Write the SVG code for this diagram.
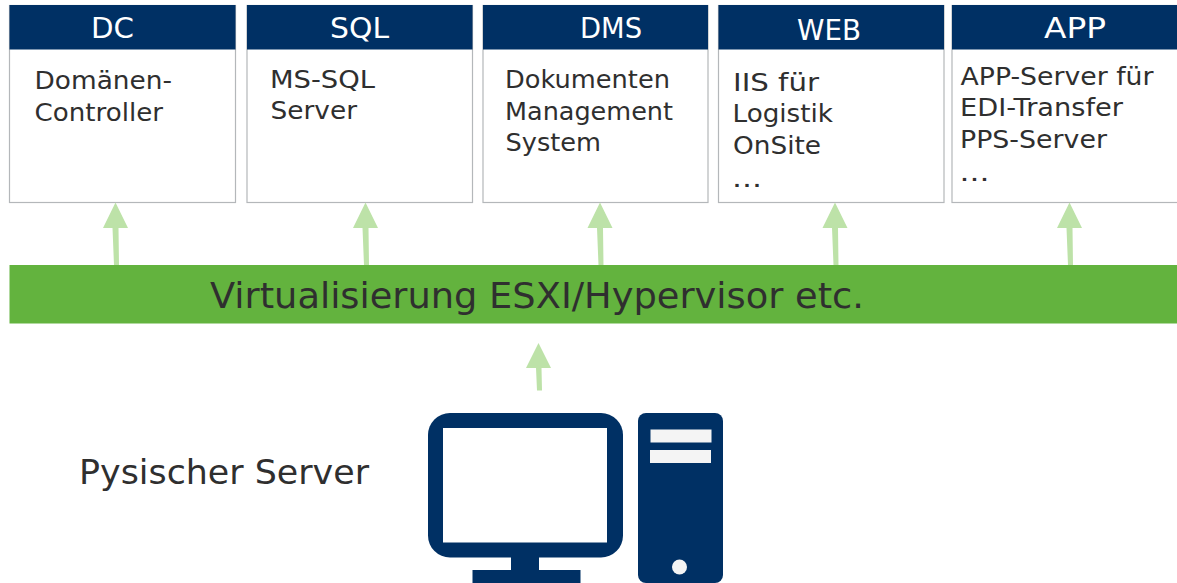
<svg xmlns="http://www.w3.org/2000/svg" width="1177" height="583" viewBox="0 0 1177 583">
<style>
text{font-family:"DejaVu Sans","Liberation Sans",sans-serif;fill:#2f2f2f}
.box{fill:#fff;stroke:#b4b7ba;stroke-width:1.2}
.head{fill:#003064}
.h{fill:#fff;font-size:28px}
.b{font-size:25px}
.arrow{fill:#bde2a8}
.navy{fill:#003064}
.pale{fill:#f4f4f4}
</style>
<rect width="1177" height="583" fill="#fff"/>
<g id="node-dc"><rect class="box" x="9.5" y="5.5" width="226" height="197"/><rect class="head" x="9.5" y="5" width="226" height="44.5"/><text class="h" x="91" y="38" textLength="43" lengthAdjust="spacingAndGlyphs">DC</text><text class="b" x="34.500" y="89" textLength="137.500" lengthAdjust="spacingAndGlyphs">Domänen-</text><text class="b" x="34.500" y="121" textLength="128.500" lengthAdjust="spacingAndGlyphs">Controller</text></g>
<g id="node-sql"><rect class="box" x="247" y="5.5" width="225.500" height="197"/><rect class="head" x="247" y="5" width="225.500" height="44.500"/><text class="h" x="330" y="38" textLength="59" lengthAdjust="spacingAndGlyphs">SQL</text><text class="b" x="270" y="88" textLength="105" lengthAdjust="spacingAndGlyphs">MS-SQL</text><text class="b" x="270.500" y="119" textLength="86.500" lengthAdjust="spacingAndGlyphs">Server</text></g>
<g id="node-dms"><rect class="box" x="483" y="5.500" width="225" height="197"/><rect class="head" x="483" y="5" width="225" height="44.500"/><text class="h" x="580" y="38" textLength="62" lengthAdjust="spacingAndGlyphs">DMS</text><text class="b" x="505" y="88" textLength="165" lengthAdjust="spacingAndGlyphs">Dokumenten</text><text class="b" x="505" y="120" textLength="168" lengthAdjust="spacingAndGlyphs">Management</text><text class="b" x="505.500" y="151" textLength="95.500" lengthAdjust="spacingAndGlyphs">System</text></g>
<g id="node-web"><rect class="box" x="718.500" y="5.500" width="225.500" height="197"/><rect class="head" x="718.500" y="5" width="225.500" height="44.500"/><text class="h" x="797" y="40" textLength="64" lengthAdjust="spacingAndGlyphs">WEB</text><text class="b" x="733" y="91" textLength="86" lengthAdjust="spacingAndGlyphs">IIS für</text><text class="b" x="732.500" y="122" textLength="100.500" lengthAdjust="spacingAndGlyphs">Logistik</text><text class="b" x="733" y="154" textLength="88" lengthAdjust="spacingAndGlyphs">OnSite</text><text class="b" x="732" y="187" textLength="30" lengthAdjust="spacingAndGlyphs">...</text></g>
<g id="node-app"><rect class="box" x="952" y="5.500" width="230" height="197"/><rect class="head" x="952" y="5" width="230" height="44.500"/><text class="h" x="1044" y="38" textLength="62" lengthAdjust="spacingAndGlyphs">APP</text><text class="b" x="960.500" y="85" textLength="193" lengthAdjust="spacingAndGlyphs">APP-Server für</text><text class="b" x="960" y="116" textLength="163" lengthAdjust="spacingAndGlyphs">EDI-Transfer</text><text class="b" x="960" y="148" textLength="147" lengthAdjust="spacingAndGlyphs">PPS-Server</text><text class="b" x="959.500" y="181" textLength="30" lengthAdjust="spacingAndGlyphs">...</text></g>
<g id="node-hypervisor"><rect x="9.500" y="265" width="1170" height="58.500" fill="#63b33e"/><text x="210" y="308" font-size="36" textLength="654" lengthAdjust="spacingAndGlyphs">Virtualisierung ESXI/Hypervisor etc.</text></g>
<g id="node-server"><text x="79" y="484" font-size="34.500" textLength="290" lengthAdjust="spacingAndGlyphs">Pysischer Server</text>
<rect class="navy" x="511" y="550" width="28" height="22"/><rect class="navy" x="472.500" y="570" width="108" height="13"/>
<rect class="navy" x="428" y="413" width="195" height="144.500" rx="22"/><rect x="443" y="428" width="164" height="114.500" fill="#fff"/>
<rect class="navy" x="638" y="413" width="85" height="170" rx="8"/><rect class="pale" x="650.500" y="429.500" width="61" height="13"/><rect class="pale" x="650" y="450" width="61" height="13"/><circle class="pale" cx="679.500" cy="567" r="7.500"/></g>
<g id="connectors">
<path class="arrow" d="M115.500 202.500L128 228H118.500L119 265H114L112.500 228H103Z"/>
<path class="arrow" d="M365.500 202.500L378 228H368.500L369 265H364L362.500 228H353Z"/>
<path class="arrow" d="M600 202.500L612.500 228H603L603.500 265H598.500L597 228H587.500Z"/>
<path class="arrow" d="M835 202.500L847.500 228H838L838.500 265H833.500L832 228H822.500Z"/>
<path class="arrow" d="M1069.500 202.500L1082 228H1072.500L1073 265H1068L1066.500 228H1057Z"/>
<path class="arrow" d="M538.500 343L551 368H541.500L542 390.500H537L536 368H526Z"/>
</g>
</svg>
